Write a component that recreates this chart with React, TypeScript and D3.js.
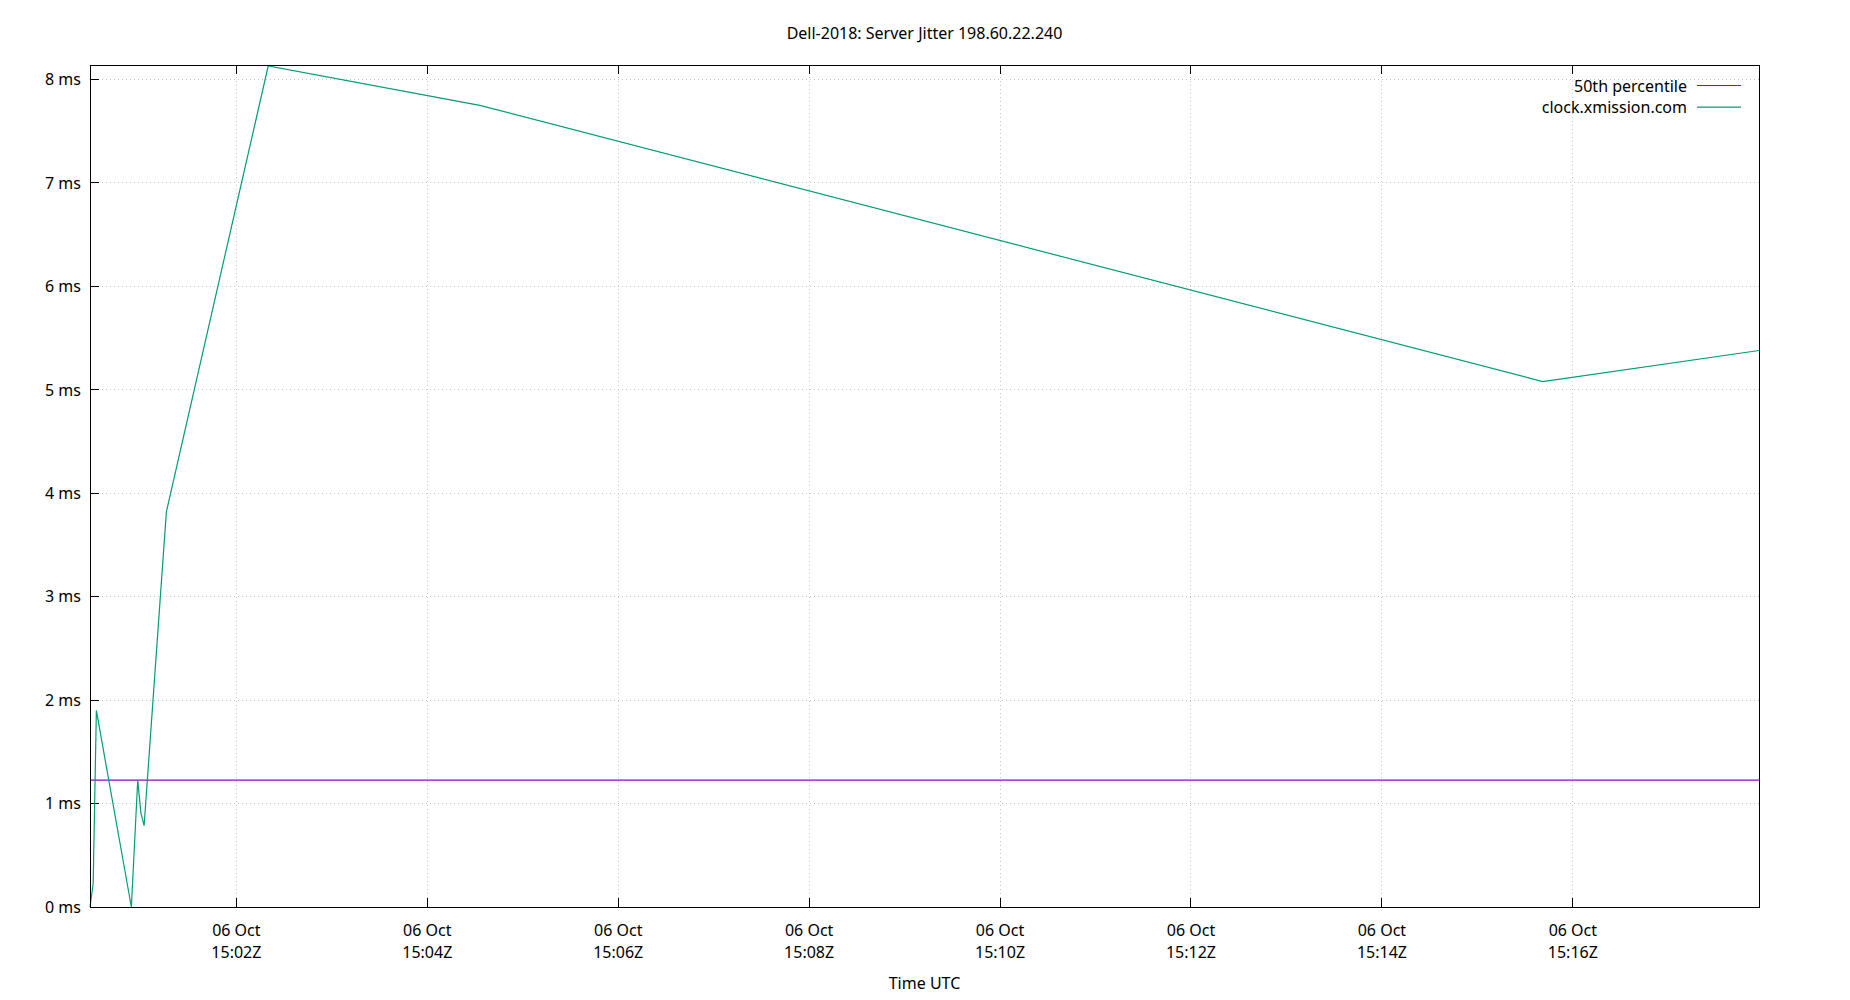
import React from "react";
import * as d3 from "d3";

const TITLE = "Dell-2018: Server Jitter 198.60.22.240";
const X_LABEL = "Time UTC";
const SERIES_NAMES = ["50th percentile", "clock.xmission.com"];
const SERIES_COLORS = ["#9400d3", "#009e73"];

const times = [
  "2023-10-06T15:00:28Z",
  "2023-10-06T15:00:30Z",
  "2023-10-06T15:00:32Z",
  "2023-10-06T15:00:54Z",
  "2023-10-06T15:00:58Z",
  "2023-10-06T15:01:00Z",
  "2023-10-06T15:01:02Z",
  "2023-10-06T15:01:16Z",
  "2023-10-06T15:02:20Z",
  "2023-10-06T15:04:33Z",
  "2023-10-06T15:15:41Z",
  "2023-10-06T15:17:57Z",
];
const jitterMs = [0, 0.23, 1.9, 0, 1.227, 0.908, 0.786, 3.82, 8.13, 7.75, 5.08, 5.38];
const percentile50 = 1.227;
const yTicks = [0, 1, 2, 3, 4, 5, 6, 7, 8];

const W = 1850;
const H = 1000;
const M = { left: 90, right: 1759, top: 65, bottom: 907 };
const FONT = "'Noto Sans', 'Open Sans', sans-serif";

export default function App() {
  const dates = times.map((t) => new Date(t));
  const data = dates.map((d, i) => ({ t: d, v: jitterMs[i] }));
  const x = d3
    .scaleUtc()
    .domain(d3.extent(dates) as [Date, Date])
    .range([M.left, M.right]);
  const y = d3
    .scaleLinear()
    .domain([0, 8.14])
    .range([M.bottom, M.top]);
  const line = d3
    .line<{ t: Date; v: number }>()
    .x((d) => x(d.t))
    .y((d) => y(d.v));
  const xTicks = x.ticks(d3.utcMinute.every(2) as any);
  const fDay = d3.utcFormat("%d %b");
  const fTime = d3.utcFormat("%H:%MZ");
  const grid = "#c8c8c8";

  return (
    <svg
      width={W}
      height={H}
      style={{ position: "absolute", left: 0, top: 0, background: "#fff" }}
      fontFamily={FONT}
    >
      <rect x={0} y={0} width={W} height={H} fill="#fff" />
      {/* grid */}
      {yTicks.map((t) => (
        <line
          key={"gy" + t}
          x1={M.left}
          x2={M.right}
          y1={y(t)}
          y2={y(t)}
          stroke={grid}
          strokeWidth={1}
          strokeDasharray="1,3"
          shapeRendering="crispEdges"
        />
      ))}
      {xTicks.map((t, i) => (
        <line
          key={"gx" + i}
          x1={x(t)}
          x2={x(t)}
          y1={M.top}
          y2={M.bottom}
          stroke={grid}
          strokeWidth={1}
          strokeDasharray="1,3"
          shapeRendering="crispEdges"
        />
      ))}
      {/* ticks */}
      {yTicks.map((t) => (
        <g key={"ty" + t}>
          <line x1={M.left} x2={M.left + 9} y1={y(t)} y2={y(t)} stroke="#000" strokeWidth={1} shapeRendering="crispEdges" />
          <text x={81} y={y(t)} dy="0.36em" textAnchor="end" fontSize={16} fill="#000">
            {t} ms
          </text>
        </g>
      ))}
      {xTicks.map((t, i) => (
        <g key={"tx" + i}>
          <line x1={x(t)} x2={x(t)} y1={M.bottom} y2={M.bottom - 9} stroke="#000" strokeWidth={1} shapeRendering="crispEdges" />
          <line x1={x(t)} x2={x(t)} y1={M.top} y2={M.top + 9} stroke="#000" strokeWidth={1} shapeRendering="crispEdges" />
          <text x={x(t)} y={936} textAnchor="middle" fontSize={16} fill="#000">
            {fDay(t)}
          </text>
          <text x={x(t)} y={957.5} textAnchor="middle" fontSize={16} fill="#000">
            {fTime(t)}
          </text>
        </g>
      ))}
      {/* series */}
      <line
        x1={M.left}
        x2={M.right}
        y1={y(percentile50)}
        y2={y(percentile50)}
        stroke={SERIES_COLORS[0]}
        strokeWidth={1.2}
      />
      <path d={line(data) as string} fill="none" stroke={SERIES_COLORS[1]} strokeWidth={1.2} />
      {/* frame */}
      <rect
        x={M.left}
        y={M.top}
        width={M.right - M.left}
        height={M.bottom - M.top}
        fill="none"
        stroke="#000"
        strokeWidth={1}
        shapeRendering="crispEdges"
      />
      {/* legend */}
      {SERIES_NAMES.map((n, i) => (
        <g key={"lg" + i}>
          <text x={1687} y={91.5 + i * 21.7} textAnchor="end" fontSize={16} fill="#000">
            {n}
          </text>
          <line
            x1={1697}
            x2={1741}
            y1={85.5 + i * 21.7}
            y2={85.5 + i * 21.7}
            stroke={SERIES_COLORS[i]}
            strokeWidth={1.2}
          />
        </g>
      ))}
      {/* titles */}
      <text x={(M.left + M.right) / 2} y={39.3} textAnchor="middle" fontSize={16} fill="#000">
        {TITLE}
      </text>
      <text x={(M.left + M.right) / 2} y={989.3} textAnchor="middle" fontSize={16} fill="#000">
        {X_LABEL}
      </text>
    </svg>
  );
}
